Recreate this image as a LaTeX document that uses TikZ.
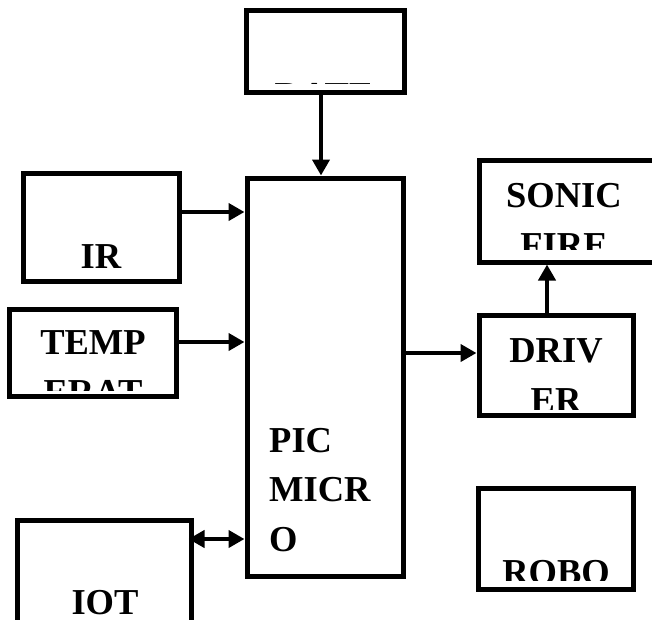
\documentclass[tikz,border=0pt]{standalone}
\usepackage{fontspec}
\setmainfont{Liberation Serif}
\usepackage{tikz}
\usetikzlibrary{arrows.meta,positioning}

\begin{document}
\begin{tikzpicture}[
  x=1pt, y=-1pt,
  blockbox/.style={draw, line width=5pt, inner sep=0pt, fill=white},
  lbl/.style={font=\fontsize{36.5}{49.5}\selectfont\bfseries, inner sep=0pt, align=center},
  arrow/.style={-{Triangle[length=16pt,width=17pt]}, line width=4pt},
  biarrow/.style={{Triangle[length=16pt,width=17pt]}-{Triangle[length=16pt,width=17pt]}, line width=4pt}
]
\useasboundingbox (0,0) rectangle (652,619);

% blocks
\node[blockbox, minimum width=158pt, minimum height=82pt] (date) at (325,51) {};
\node[blockbox, minimum width=156pt, minimum height=398pt] (pic) at (325,377) {};
\node[blockbox, minimum width=156pt, minimum height=108pt] (ir) at (101,227) {};
\node[blockbox, minimum width=167pt, minimum height=87pt] (temp) at (92.5,352.5) {};
\node[blockbox, minimum width=174pt, minimum height=140pt] (iot) at (104,590) {};
\node[blockbox, minimum width=201pt, minimum height=102pt] (sonic) at (579.5,211) {};
\node[blockbox, minimum width=154pt, minimum height=100pt] (driver) at (556,365) {};
\node[blockbox, minimum width=155pt, minimum height=101pt] (robo) at (556,539) {};

% labels, clipped like the text frames (base = last line)
\begin{scope}
  \clip (246,10) rectangle (404,83);
  \node[lbl, anchor=base] (datetxt) at (324,107.5) {DATE};
\end{scope}
\begin{scope}
  \clip (479,160) rectangle (652,249);
  \node[lbl, anchor=base] (sonictxt) at (564,257) {SONIC\\FIRE};
\end{scope}
\node[lbl, anchor=base] (irtxt) at (101,268) {IR};
\begin{scope}
  \clip (9,309) rectangle (176,390);
  \node[lbl, anchor=base] (temptxt) at (93,404) {TEMP\\ERAT};
\end{scope}
\begin{scope}
  \clip (479,315) rectangle (635,409);
  \node[lbl, anchor=base] (drivertxt) at (556,412) {DRIV\\ER};
\end{scope}
\node[lbl, anchor=base west, align=left] (pictxt) at (269,551) {PIC\\MICR\\O};
\begin{scope}
  \clip (479,488) rectangle (634,580);
  \node[lbl, anchor=base] (robotxt) at (556,584) {ROBO};
\end{scope}
\node[lbl, anchor=base] (iottxt) at (105,614) {IOT};

% connectors
\draw[arrow] ([xshift=-4pt]date.south) -- ([xshift=-4pt]date.south |- pic.north);
\draw[arrow] ([yshift=15pt]ir.east) -- ([yshift=15pt]ir.east -| pic.west);
\draw[arrow] ([yshift=10.5pt]temp.east) -- ([yshift=10.5pt]temp.east -| pic.west);
\draw[arrow] ([yshift=12pt]driver.west -| pic.east) -- ([yshift=12pt]driver.west);
\draw[arrow] ([xshift=-9pt]driver.north) -- ([xshift=-9pt]driver.north |- sonic.south);
\draw[biarrow] ([yshift=51pt, xshift=-5pt]iot.east) -- ([yshift=51pt]iot.east -| pic.west);
\end{tikzpicture}
\end{document}
